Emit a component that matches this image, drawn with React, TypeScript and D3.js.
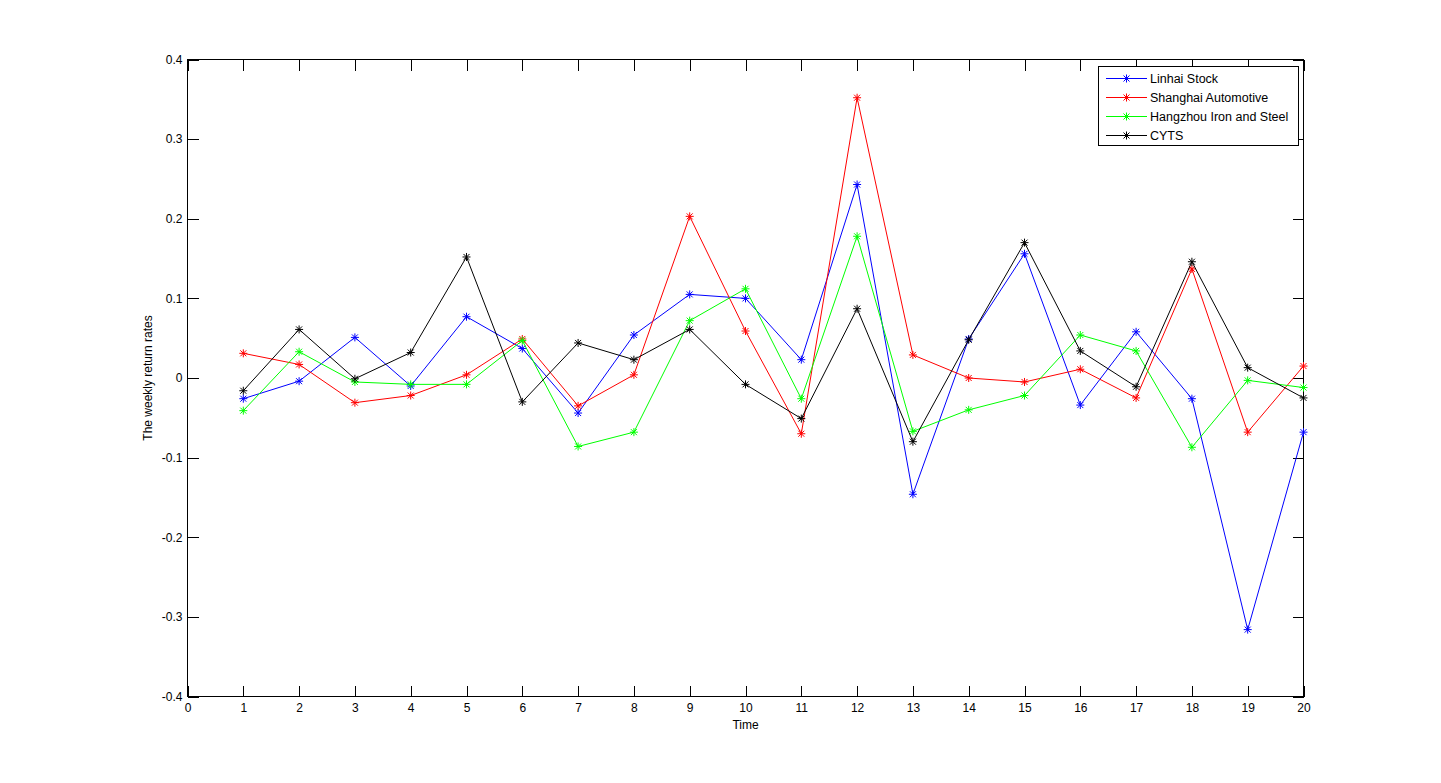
import React, { useEffect, useRef } from 'react';
import * as d3 from 'd3';

// weekly return rates, weeks 1..20
const weeks = d3.range(1, 21);
const linhai = [-0.026, -0.004, 0.051, -0.010, 0.077, 0.037, -0.044, 0.054, 0.105, 0.100, 0.023, 0.243, -0.146, 0.049, 0.156, -0.034, 0.058, -0.026, -0.316, -0.068];
const shanghai = [0.031, 0.017, -0.031, -0.022, 0.004, 0.049, -0.035, 0.004, 0.203, 0.059, -0.070, 0.352, 0.029, 0.000, -0.005, 0.011, -0.025, 0.137, -0.068, 0.015];
const hangzhou = [-0.041, 0.033, -0.005, -0.008, -0.008, 0.047, -0.086, -0.068, 0.072, 0.112, -0.026, 0.178, -0.067, -0.040, -0.022, 0.054, 0.034, -0.087, -0.003, -0.012];
const cyts = [-0.016, 0.061, -0.001, 0.032, 0.152, -0.030, 0.044, 0.023, 0.061, -0.008, -0.051, 0.087, -0.080, 0.048, 0.170, 0.034, -0.011, 0.146, 0.013, -0.025];

const seriesNames = ['Linhai Stock', 'Shanghai Automotive', 'Hangzhou Iron and Steel', 'CYTS'];
const seriesColors = ['#0000ff', '#ff0000', '#00ff00', '#000000'];
const seriesValues = [linhai, shanghai, hangzhou, cyts];

const xTicks = d3.range(0, 21);
const yTicks = [-0.4, -0.3, -0.2, -0.1, 0, 0.1, 0.2, 0.3, 0.4];

const FONT = '"Liberation Sans", Arial, Helvetica, sans-serif';

// matlab style '*' marker
const drawStar = (g: any, cx: number, cy: number, color: string) => {
  const r = 4;
  const d = 3;
  const p = `M${cx - r},${cy}L${cx + r},${cy}M${cx},${cy - r}L${cx},${cy + r}` +
    `M${cx - d},${cy - d}L${cx + d},${cy + d}M${cx - d},${cy + d}L${cx + d},${cy - d}`;
  g.append('path').attr('d', p).attr('stroke', color).attr('stroke-width', 1).attr('fill', 'none');
};

export default function App() {
  const ref = useRef<SVGSVGElement | null>(null);

  useEffect(() => {
    const width = 1441;
    const height = 783;
    const left = 187.5, right = 1303.5, top = 59.5, bottom = 696.5;

    const svg = d3.select(ref.current);
    svg.selectAll('*').remove();
    svg.attr('width', width).attr('height', height);

    svg.append('rect').attr('width', width).attr('height', height).attr('fill', '#ffffff');

    const x = d3.scaleLinear().domain([0, 20]).range([left, right]);
    const y = d3.scaleLinear().domain([-0.4, 0.4]).range([bottom, top]);

    const fmt = (v: any) => String(+(+v).toFixed(1));
    const tickLen = 11;

    const styleAxis = (g: any) => {
      g.select('.domain').remove();
      g.selectAll('line').attr('stroke', '#000').attr('shape-rendering', 'crispEdges');
      g.selectAll('text').attr('fill', '#000').style('font-family', FONT).style('font-size', '12px');
    };

    svg.append('g')
      .attr('transform', `translate(0,${bottom})`)
      .call(d3.axisBottom(x).tickValues(xTicks).tickSize(-tickLen).tickPadding(6).tickFormat(fmt as any))
      .call(styleAxis)
      .call((g: any) => g.selectAll('text').attr('y', 7));

    svg.append('g')
      .attr('transform', `translate(0,${top})`)
      .call(d3.axisTop(x).tickValues(xTicks).tickSize(-tickLen).tickFormat(() => ''))
      .call(styleAxis);

    svg.append('g')
      .attr('transform', `translate(${left},0)`)
      .call(d3.axisLeft(y).tickValues(yTicks).tickSize(-tickLen).tickPadding(6).tickFormat(fmt as any))
      .call(styleAxis)
      .call((g: any) => g.selectAll('text').attr('x', -5));

    svg.append('g')
      .attr('transform', `translate(${right},0)`)
      .call(d3.axisRight(y).tickValues(yTicks).tickSize(-tickLen).tickFormat(() => ''))
      .call(styleAxis);

    // axes box
    svg.append('rect')
      .attr('x', left).attr('y', top)
      .attr('width', right - left).attr('height', bottom - top)
      .attr('fill', 'none').attr('stroke', '#000').attr('stroke-width', 1)
      .attr('shape-rendering', 'crispEdges');

    const line = d3.line<number>()
      .x((d, i) => x(weeks[i]))
      .y(d => y(d));

    seriesValues.forEach((vals, k) => {
      const g = svg.append('g');
      g.append('path')
        .attr('d', line(vals))
        .attr('fill', 'none')
        .attr('stroke', seriesColors[k])
        .attr('stroke-width', 1);
      vals.forEach((v, i) => drawStar(g, x(weeks[i]), y(v), seriesColors[k]));
    });

    svg.append('text')
      .attr('x', (left + right) / 2)
      .attr('y', 729)
      .attr('text-anchor', 'middle')
      .style('font-family', FONT).style('font-size', '12px')
      .text('Time');

    svg.append('text')
      .attr('transform', `translate(152,${(top + bottom) / 2}) rotate(-90)`)
      .attr('text-anchor', 'middle')
      .style('font-family', FONT).style('font-size', '12px')
      .text('The weekly return rates');

    // legend
    const lg = svg.append('g');
    lg.append('rect')
      .attr('x', 1098.5).attr('y', 66.5).attr('width', 200).attr('height', 79)
      .attr('fill', '#fff').attr('stroke', '#000').attr('shape-rendering', 'crispEdges');
    seriesNames.forEach((name, k) => {
      const ly = 78.5 + k * 19;
      lg.append('line')
        .attr('x1', 1106).attr('x2', 1147).attr('y1', ly).attr('y2', ly)
        .attr('stroke', seriesColors[k]).attr('stroke-width', 1);
      drawStar(lg, 1126.5, ly, seriesColors[k]);
      lg.append('text')
        .attr('x', 1150).attr('y', ly + 4.5)
        .style('font-family', FONT).style('font-size', '12.5px')
        .text(name);
    });
  }, []);

  return (
    <svg ref={ref} style={{ position: 'absolute', left: 0, top: 0, display: 'block' }} />
  );
}
